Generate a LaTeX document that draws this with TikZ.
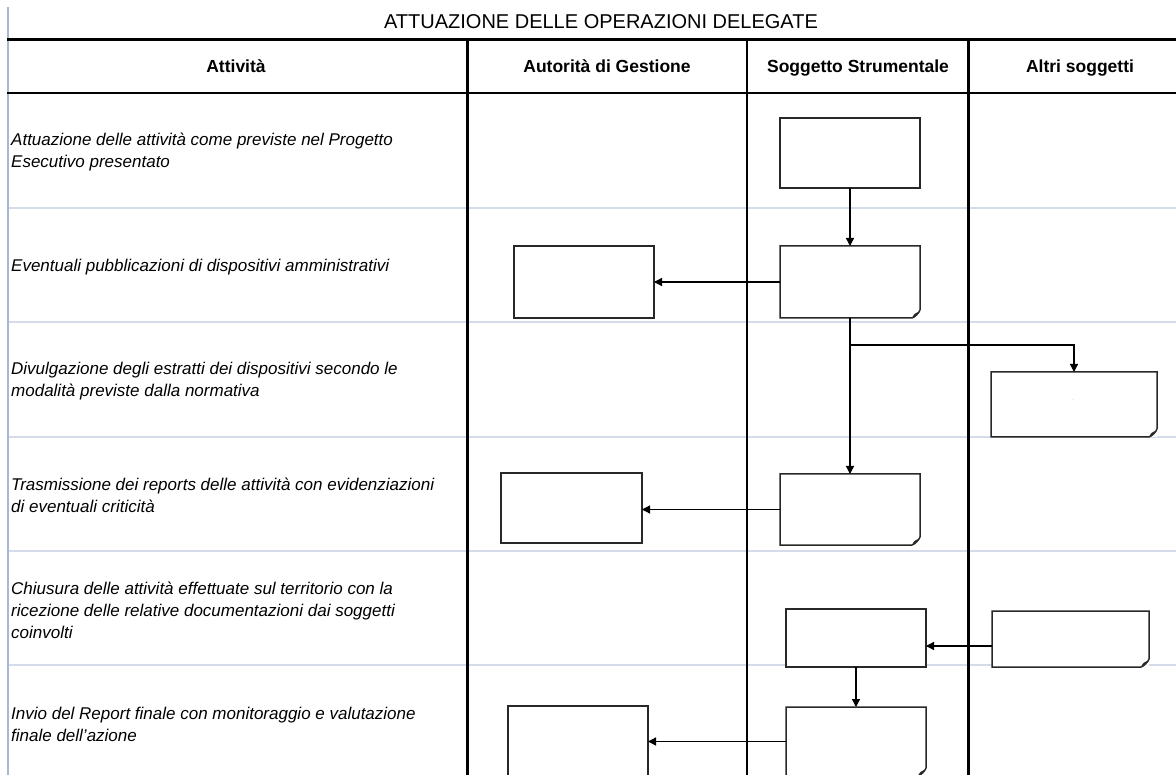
\documentclass[tikz,border=0pt]{standalone}
\usepackage{fontspec}
\setmainfont{Liberation Sans}
\usetikzlibrary{arrows.meta}
\definecolor{sepcol}{RGB}{212,219,234}
\definecolor{edgecol}{RGB}{168,184,208}
\definecolor{boxcol}{RGB}{40,40,40}
\tikzset{
  boxline/.style={draw=boxcol, line width=1.5pt, line join=miter},
  plainbox/.style={boxline, fill=white, inner sep=0pt, outer sep=0pt},
  docbox/.style={fill=white, inner sep=0pt, outer sep=0pt},
  arr/.style={draw=black, line width=1.3pt, -{Triangle[length=8pt,width=8pt]}},
  heavy/.style={draw=black, line width=2.8pt},
  sepline/.style={draw=sepcol, line width=1.5pt},
  hdr/.style={font=\bfseries\fontsize{17.5}{20}\selectfont, inner sep=0pt, anchor=base},
  acttext/.style={anchor=west, align=left, inner sep=0pt, font=\itshape\fontsize{17}{22}\selectfont},
}
\newcommand{\docoutline}[1]{%
  \draw[boxline] ([yshift=8pt]#1.south east) -- (#1.north east) -- (#1.north west) -- (#1.south west) -- ([xshift=-8pt]#1.south east)
    .. controls ([xshift=-5pt,yshift=1pt]#1.south east) and ([xshift=-1pt,yshift=5pt]#1.south east) .. ([yshift=8pt]#1.south east);
  \fill[boxcol] ([xshift=-8pt]#1.south east) .. controls ([xshift=-6pt,yshift=4pt]#1.south east) .. ([xshift=-2pt,yshift=6pt]#1.south east)
    .. controls ([xshift=-4pt,yshift=2pt]#1.south east) .. cycle;
}
\begin{document}
\begin{tikzpicture}[x=1pt,y=-1pt]
\useasboundingbox (0,0) rectangle (1176,775);
\clip (0,0) rectangle (1176,775);
\fill[white] (0,0) rectangle (1176,775);

% left edge line
\draw[draw=edgecol, line width=1.5pt] (8,7) -- (8,775);

% row separators
\foreach \yy in {208,322,437,551,665}
  \draw[sepline] (9,\yy) -- (1176,\yy);

% title
\node[inner sep=0pt, anchor=base, font=\fontsize{20}{24}\selectfont] (title) at (601,28.5) {ATTUAZIONE DELLE OPERAZIONI DELEGATE};

% table frame
\draw[heavy] (7,39.5) -- (1176,39.5);
\draw[heavy] (7,93) -- (1176,93);
\foreach \xx in {467.5,747,968.5}
  \draw[heavy] (\xx,39.5) -- (\xx,775);

% headers
\node[hdr] (h1) at (236,73) {Attività};
\node[hdr] (h2) at (607,73) {Autorità di Gestione};
\node[hdr] (h3) at (858,73) {Soggetto Strumentale};
\node[hdr] (h4) at (1080,73) {Altri soggetti};

% activity texts
\node[acttext] (t1) at (11,152) {Attuazione delle attività come previste nel Progetto\\Esecutivo presentato};
\node[acttext] (t2) at (11,267) {Eventuali pubblicazioni di dispositivi amministrativi};
\node[acttext] (t3) at (11,381.5) {Divulgazione degli estratti dei dispositivi secondo le\\modalità previste dalla normativa};
\node[acttext] (t4) at (11,495.5) {Trasmissione dei reports delle attività con evidenziazioni\\di eventuali criticità};
\node[acttext] (t5) at (11,610) {Chiusura delle attività effettuate sul territorio con la\\ricezione delle relative documentazioni dai soggetti\\coinvolti};
\node[acttext] (t6) at (11,724) {Invio del Report finale con monitoraggio e valutazione\\finale dell'azione};

% boxes
\node[plainbox, minimum width=140pt, minimum height=70pt] (A) at (850,153) {};
\node[docbox, minimum width=140pt, minimum height=72pt] (B) at (850,282) {};
\docoutline{B}
\node[plainbox, minimum width=140pt, minimum height=72pt] (C) at (584,282) {};
\node[docbox, minimum width=166pt, minimum height=65pt] (E) at (1074,404.5) {};
\docoutline{E}
\node[inner sep=0pt, font=\fontsize{5}{5}\selectfont, text=gray] (Edot) at (1073,400) {.};
\node[docbox, minimum width=140pt, minimum height=71pt] (D) at (850,509.5) {};
\docoutline{D}
\node[plainbox, minimum width=141pt, minimum height=70pt] (F) at (571.5,508) {};
\node[plainbox, minimum width=140pt, minimum height=58pt] (G) at (856,638) {};
\node[docbox, minimum width=157pt, minimum height=56pt] (H) at (1070.5,639) {};
\docoutline{H}
\node[docbox, minimum width=140pt, minimum height=69pt] (I) at (856,741.5) {};
\docoutline{I}
\node[plainbox, minimum width=140pt, minimum height=84pt] (J) at (578,748) {};

% connectors
\draw[arr] (A.south) -- (B.north);
\draw[arr] (B.west) -- (C.east);
\draw[arr] (B.south) -- (D.north);
\coordinate (br) at (850,345);
\draw[arr] (br) -| (E.north);
\draw[arr] (D.west) -- (D.west -| F.east);
\draw[arr] ([yshift=-7pt]H.west) -- ([yshift=-7pt]H.west -| G.east);
\draw[arr] (G.south) -- (I.north);
\draw[arr] (I.west) -- (I.west -| J.east);

% redraw heavy vertical lines over connectors
\foreach \xx in {747,968.5}
  \draw[heavy] (\xx,93) -- (\xx,775);
\end{tikzpicture}
\end{document}
